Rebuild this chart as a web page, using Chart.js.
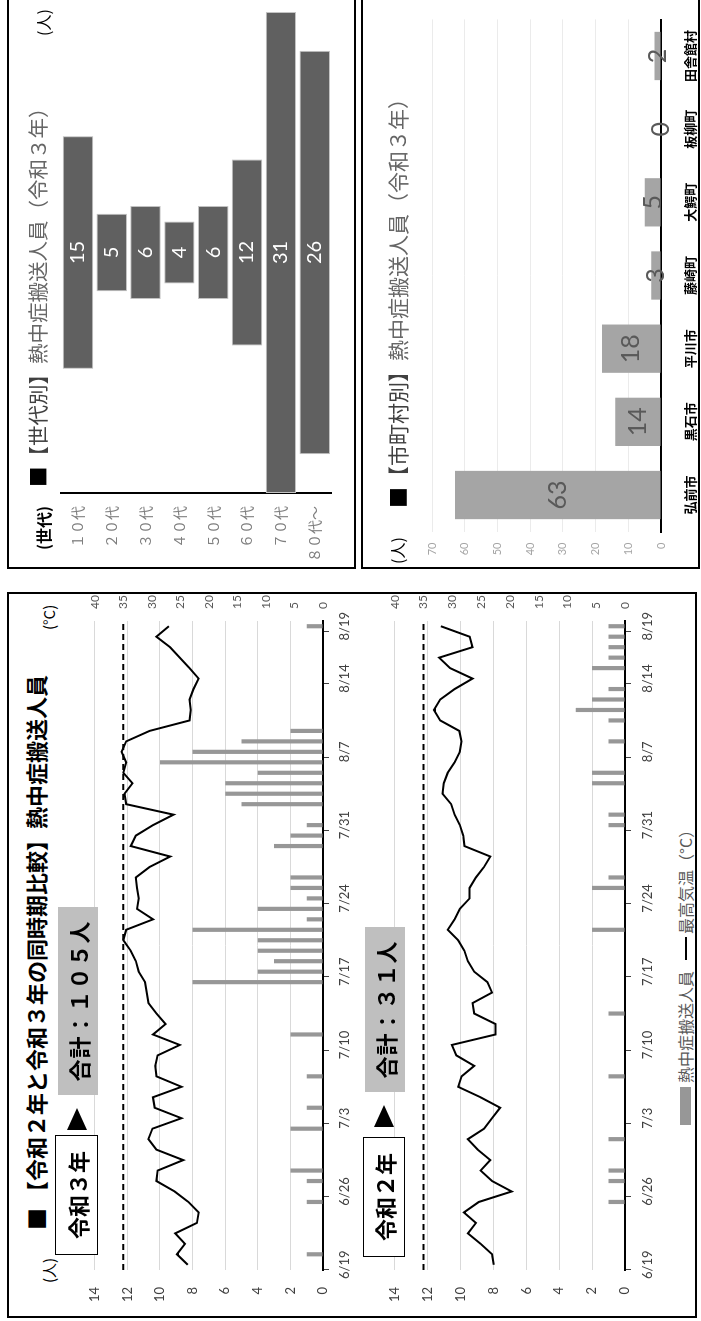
<!DOCTYPE html>
<html lang="ja">
<head>
<meta charset="utf-8">
<title>熱中症搬送人員</title>
<script src="https://cdn.jsdelivr.net/npm/chart.js@4.4.1/dist/chart.umd.min.js"></script>
<style>
html, body { margin: 0; padding: 0; background: #fff; }
body { width: 701px; height: 1321px; overflow: hidden; position: relative; font-family: "Noto Sans CJK JP", sans-serif; }
#land { position: absolute; left: 0; top: 0; width: 1321px; height: 701px; transform-origin: 0 0; transform: translate(0, 1321px) rotate(-90deg); overflow: hidden; background: #fff; }
.abs { position: absolute; white-space: nowrap; line-height: 1; }
.frame { position: absolute; border: 2px solid #000; box-sizing: border-box; }
canvas { position: absolute; }
.tag { position: absolute; box-sizing: border-box; display: flex; align-items: center; justify-content: center; font-weight: bold; font-size: 22px; color: #000; line-height: 1; white-space: nowrap; }
.tri { position: absolute; width: 0; height: 0; border-left: 22px solid #000; border-top: 10px solid transparent; border-bottom: 10px solid transparent; }
</style>
</head>
<body>
<div id="land">
  <div class="frame" style="left:3px;top:7px;width:726px;height:690px"></div>
  <div class="frame" style="left:752px;top:7px;width:590px;height:349px"></div>
  <div class="frame" style="left:752px;top:361px;width:590px;height:339px"></div>

  <canvas id="chart2021" width="740" height="290" style="left:0;top:70px"></canvas>
  <canvas id="chart2020" width="740" height="290" style="left:0;top:370px"></canvas>
  <canvas id="chartAge" width="567" height="344" style="left:752px;top:9px"></canvas>
  <canvas id="chartTown" width="567" height="337" style="left:752px;top:363px"></canvas>

  <div class="abs" style="left:91px;top:24px;font-size:22px;font-weight:bold;color:#000">■ 【令和２年と令和３年の同時期比較】熱中症搬送人員</div>
  <div class="abs" style="left:38px;top:41px;font-size:15px;color:#000">(人)</div>
  <div class="abs" style="left:691px;top:41px;font-size:15px;color:#000">(°C)</div>

  <div class="tag" style="left:66px;top:55px;width:120px;height:43px;border:1.5px solid #000;background:#fff">令和３年</div>
  <div class="tri" style="left:191px;top:67px"></div>
  <div class="tag" style="left:226px;top:58px;width:188px;height:40px;background:#bfbfbf;letter-spacing:1px">合計：１０５人</div>

  <div class="tag" style="left:64px;top:363px;width:120px;height:42px;border:1.5px solid #000;background:#fff">令和２年</div>
  <div class="tri" style="left:194px;top:374px"></div>
  <div class="tag" style="left:229px;top:365px;width:165px;height:40px;background:#bfbfbf;letter-spacing:1px">合計：３１人</div>

  <div class="abs" style="left:196px;top:680px;width:38px;height:11px;background:#979797"></div>
  <div class="abs" style="left:238px;top:677px;font-size:16px;color:#595959">熱中症搬送人員</div>
  <div class="abs" style="left:361px;top:685px;width:23px;height:2px;background:#000"></div>
  <div class="abs" style="left:387px;top:677px;font-size:16px;color:#595959">最高気温（°C）</div>

  <div class="abs" style="left:834px;top:27px;font-size:20.5px;color:#666"><span style="color:#000">■</span><span style="color:#404040">【世代別】</span>熱中症搬送人員（令和３年）</div>
  <div class="abs" style="left:771px;top:35px;font-size:16px;font-weight:bold;color:#000">(世代)</div>
  <div class="abs" style="left:1285px;top:35px;font-size:16px;color:#000">(人)</div>

  <div class="abs" style="left:813px;top:387px;font-size:21px;color:#666"><span style="color:#000">■</span><span style="color:#404040">【市町村別】</span>熱中症搬送人員（令和３年）</div>
  <div class="abs" style="left:757px;top:389px;font-size:16px;color:#000">(人)</div>
</div>

<script>
var dates = [
  '6/19', '6/20', '6/21', '6/22', '6/23', '6/24', '6/25', '6/26', '6/27', '6/28', '6/29', '6/30',
  '7/1', '7/2', '7/3', '7/4', '7/5', '7/6', '7/7', '7/8', '7/9', '7/10', '7/11', '7/12', '7/13', '7/14',
  '7/15', '7/16', '7/17', '7/18', '7/19', '7/20', '7/21', '7/22', '7/23', '7/24', '7/25', '7/26', '7/27',
  '7/28', '7/29', '7/30', '7/31',
  '8/1', '8/2', '8/3', '8/4', '8/5', '8/6', '8/7', '8/8', '8/9', '8/10', '8/11', '8/12', '8/13', '8/14',
  '8/15', '8/16', '8/17', '8/18', '8/19'
];
var tickDates = ['6/19', '6/26', '7/3', '7/10', '7/17', '7/24', '7/31', '8/7', '8/14', '8/19'];

// 令和3年
var count2021 = [
  0, 1, 0, 0, 0, 0, 1, 0, 1, 2,
  0, 0, 0, 2, 0, 1, 0, 0, 1, 0,
  0, 0, 2, 0, 0, 0, 0, 8, 4, 3,
  4, 4, 8, 1, 4, 1, 2, 2, 0, 0,
  3, 2, 1, 0, 5, 6, 6, 4, 10, 8,
  5, 2, 0, 0, 0, 0, 0, 0, 0, 0,
  0, 1
];
var temp2021 = [
  23.7, 25.6, 24.2, 25.9, 22.1, 21.8, 23.6, 26.0, 29.2, 29.0,
  24.5, 29.2, 30.6, 29.9, 24.8, 29.5, 29.8, 24.8, 29.2, 29.4,
  29.0, 25.1, 29.8, 27.6, 29.2, 30.6, 30.9, 31.2, 32.3, 32.8,
  33.7, 35.0, 34.5, 29.8, 32.6, 32.3, 32.6, 32.8, 30.4, 26.8,
  33.7, 32.8, 29.8, 26.2, 34.5, 34.8, 33.4, 35.0, 34.5, 35.3,
  34.5, 30.4, 23.4, 23.2, 23.4, 22.7, 21.8, 23.4, 25.1, 26.8,
  29.2, 27.0
];

// 令和2年
var count2020 = [
  0, 0, 0, 0, 0, 0, 1, 0, 1, 1,
  0, 0, 1, 0, 0, 0, 0, 0, 1, 0,
  0, 0, 0, 0, 1, 0, 0, 0, 0, 0,
  0, 0, 2, 0, 0, 0, 2, 1, 0, 0,
  0, 0, 1, 1, 0, 0, 2, 2, 0, 0,
  1, 0, 1, 3, 2, 1, 0, 2, 1, 1,
  1, 1
];
var temp2020 = [
  22.8, 23.1, 25.1, 27.3, 25.9, 28.0, 25.4, 19.7, 23.1, 25.1,
  23.4, 25.6, 27.3, 24.5, 23.1, 21.7, 25.1, 29.0, 28.4, 26.2,
  29.3, 30.1, 22.5, 22.5, 26.2, 26.5, 23.1, 23.9, 26.2, 27.3,
  27.9, 29.0, 30.8, 29.6, 28.7, 27.0, 27.0, 25.9, 24.5, 23.4,
  27.9, 28.1, 28.7, 29.6, 30.2, 31.7, 31.5, 30.8, 29.6, 28.7,
  28.4, 28.8, 32.1, 33.2, 32.1, 29.6, 26.5, 30.4, 32.3, 26.5,
  27.0, 32.0
];
var heatLine = 35;

var ages = ['１０代', '２０代', '３０代', '４０代', '５０代', '６０代', '７０代', '８０代～'];
var ageCounts = [15, 5, 6, 4, 6, 12, 31, 26];

var towns = ['弘前市', '黒石市', '平川市', '藤崎町', '大鰐町', '板柳町', '田舎館村'];
var townCounts = [63, 14, 18, 3, 5, 0, 2];

Chart.defaults.font.family = "'Noto Sans CJK JP', sans-serif";
Chart.defaults.animation = false;
Chart.defaults.plugins.legend.display = false;
Chart.defaults.plugins.tooltip.enabled = false;

// 35℃ の破線
var dashLine = {
  id: 'dashLine',
  beforeDatasetsDraw: function (chart) {
    var a = chart.chartArea;
    var y = chart.scales.yR.getPixelForValue(heatLine);
    var c = chart.ctx;
    c.save();
    c.strokeStyle = '#000';
    c.lineWidth = 2;
    c.setLineDash([6, 4]);
    c.beginPath();
    c.moveTo(a.left, y);
    c.lineTo(a.right, y);
    c.stroke();
    c.restore();
  }
};

// 棒の中央に値
var barText = {
  id: 'barText',
  afterDatasetsDraw: function (chart, args, opts) {
    if (!opts.values) return;
    var c = chart.ctx;
    var bars = chart.getDatasetMeta(0).data;
    var horizontal = chart.options.indexAxis === 'y';
    c.save();
    c.fillStyle = opts.color;
    c.font = opts.font;
    c.textAlign = 'center';
    c.textBaseline = 'middle';
    for (var i = 0; i < bars.length; i++) {
      var b = bars[i];
      var x = horizontal ? (b.x + b.base) / 2 : b.x;
      var y = horizontal ? b.y : (b.y + b.base) / 2;
      c.fillText(opts.values[i], x, y);
    }
    c.restore();
  }
};

function dailyChart(id, counts, temps, topPad, axisHeight, labelPad) {
  new Chart(document.getElementById(id), {
    type: 'bar',
    data: {
      labels: dates,
      datasets: [
        {
          type: 'line',
          data: temps,
          yAxisID: 'yR',
          borderColor: '#000',
          borderWidth: 2,
          pointRadius: 0,
          tension: 0,
          order: 0
        },
        {
          data: counts,
          yAxisID: 'yL',
          backgroundColor: '#979797',
          barPercentage: 0.4,
          categoryPercentage: 1,
          order: 1
        }
      ]
    },
    options: {
      responsive: false,
      devicePixelRatio: 1,
      layout: { padding: { top: topPad, left: 0, right: 0, bottom: 0 } },
      scales: {
        x: {
          afterFit: function (s) { s.height = axisHeight; },
          grid: {
            drawOnChartArea: false,
            offset: true,
            tickLength: 6,
            color: function (ctx) {
              return ctx.index < dates.length && tickDates.indexOf(dates[ctx.index]) >= 0 ? '#404040' : 'rgba(0,0,0,0)';
            }
          },
          border: { color: '#000', width: 2 },
          ticks: {
            autoSkip: false,
            maxRotation: 0,
            minRotation: 0,
            padding: labelPad,
            color: '#404040',
            font: { family: 'Lato', size: 13 },
            callback: function (v, i) {
              return tickDates.indexOf(dates[i]) >= 0 ? dates[i] : '';
            }
          }
        },
        yL: {
          position: 'left',
          min: 0,
          max: 14,
          afterFit: function (s) { s.width = 51; },
          grid: { color: '#d9d9d9', drawTicks: false },
          border: { display: false },
          ticks: { stepSize: 2, padding: 17, color: '#404040', font: { family: 'Lato', size: 13 } }
        },
        yR: {
          position: 'right',
          min: 0,
          max: 40,
          afterFit: function (s) { s.width = 40; },
          grid: { display: false, drawTicks: false },
          border: { display: false },
          ticks: { stepSize: 5, padding: 12, color: '#595959', font: { family: 'Lato', size: 12 } }
        }
      }
    },
    plugins: [dashLine]
  });
}

dailyChart('chart2021', count2021, temp2021, 12, 37, 8);
dailyChart('chart2020', count2020, temp2020, 13, 35, 9);

new Chart(document.getElementById('chartAge'), {
  type: 'bar',
  data: {
    labels: ages,
    datasets: [{
      data: ageCounts.map(function (v) { return [-v / 2, v / 2]; }),
      backgroundColor: '#606060',
      borderColor: '#c4c4c4',
      borderWidth: 1,
      borderSkipped: false,
      barPercentage: 0.9,
      categoryPercentage: 1
    }]
  },
  options: {
    indexAxis: 'y',
    responsive: false,
    devicePixelRatio: 1,
    layout: { padding: { top: 52, bottom: 16, left: 0, right: 10 } },
    scales: {
      x: { display: false, min: -15.5, max: 15.5 },
      y: {
        afterFit: function (s) { s.width = 76; },
        grid: { display: false, drawTicks: false },
        border: { color: '#000', width: 2 },
        ticks: { padding: 13, color: '#7f7f7f', font: { size: 14 } }
      }
    },
    plugins: { barText: { values: ageCounts, color: '#fff', font: "20px Lato" } }
  },
  plugins: [barText]
});

new Chart(document.getElementById('chartTown'), {
  type: 'bar',
  data: {
    labels: towns,
    datasets: [{
      data: townCounts,
      backgroundColor: '#a5a5a5',
      barPercentage: 0.66,
      categoryPercentage: 1
    }]
  },
  options: {
    responsive: false,
    devicePixelRatio: 1,
    layout: { padding: { top: 69, bottom: 0, left: 0, right: 17.4 } },
    scales: {
      x: {
        afterFit: function (s) { s.height = 39; },
        grid: { display: false, drawTicks: false },
        border: { color: '#000', width: 2 },
        ticks: { padding: 21, color: '#000', font: { size: 13, weight: 'bold' } }
      },
      y: {
        min: 0,
        max: 70,
        afterFit: function (s) { s.width = 37.4; },
        grid: { color: '#ebebeb', drawTicks: false },
        border: { display: false },
        ticks: { stepSize: 10, padding: 11, color: '#a6a6a6', font: { family: 'Lato', size: 11 } }
      }
    },
    plugins: { barText: { values: townCounts, color: '#595959', font: "25px Lato" } }
  },
  plugins: [barText]
});
</script>
</body>
</html>
